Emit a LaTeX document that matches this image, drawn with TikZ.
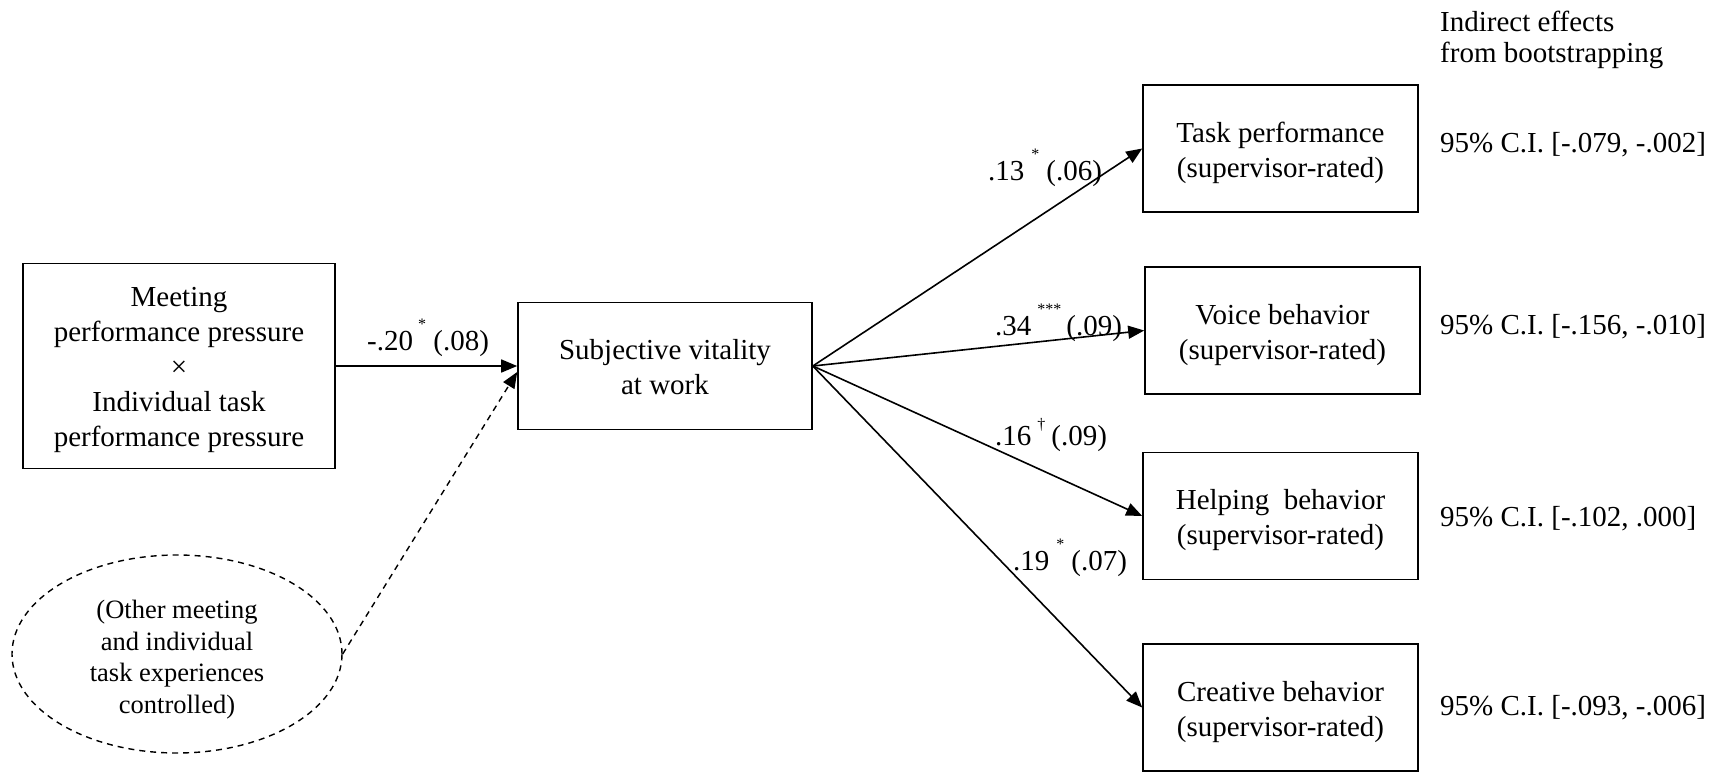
\documentclass[tikz,border=0pt]{standalone}
\usepackage{fontspec}
\setmainfont{Liberation Serif}
\usetikzlibrary{shapes.geometric,arrows.meta}
\newcommand\sigmark[2][21pt]{\raisebox{#1}{\fontsize{16}{16}\selectfont #2}}
\newcommand\topstr[1]{\rule{0pt}{#1}}
\begin{document}
\begin{tikzpicture}[x=1pt,y=-1pt,
  box/.style={draw,line width=1.6pt,minimum width=275pt,minimum height=127pt,inner sep=0pt,align=center,font=\fontsize{29}{35}\selectfont},
  lbl/.style={anchor=base west,inner sep=0pt,font=\fontsize{29}{35}\selectfont},
  arr/.style={line width=1.6pt,-{Triangle[length=16pt,width=13pt]}},
  dashline/.style={line width=1.4pt,dash pattern=on 6pt off 5pt}
]
\useasboundingbox (0,0) rectangle (1721,772);

\node[box,minimum width=312pt,minimum height=205pt] (mp) at (179,366) {\topstr{27pt}Meeting\\performance pressure\\×\\Individual task\\performance pressure};
\node[box,minimum width=294pt] (sv) at (665,366) {\topstr{22pt}Subjective vitality\\at work};
\node[box] (tp) at (1280.5,148.5) {\topstr{29pt}Task performance\\(supervisor-rated)};
\node[box] (vb) at (1282.5,330.5) {\topstr{29pt}Voice behavior\\(supervisor-rated)};
\node[box] (hb) at (1280.5,516) {\topstr{29pt}Helping\ \ behavior\\(supervisor-rated)};
\node[box] (cb) at (1280.5,707.5) {\topstr{29pt}Creative behavior\\(supervisor-rated)};

\node[ellipse,draw,dashline,minimum width=330pt,minimum height=198pt,inner sep=0pt,align=center,font=\fontsize{26.5}{31.5}\selectfont] (oth) at (177,654) {\topstr{30pt}(Other meeting\\and individual\\task experiences\\controlled)};

\draw[arr] (mp.east) -- (sv.west);
\draw[arr,dashline] (oth.east) -- ([yshift=-6pt]sv.west);
\draw[arr] (sv.east) -- (tp.west);
\draw[arr] (sv.east) -- (vb.west);
\draw[arr] (sv.east) -- (hb.west);
\draw[arr] (sv.east) -- (cb.west);

\node[lbl] (l1) at (367,350) {-.20\hspace{5pt}\sigmark{*}\ (.08)};
\node[lbl] (l2) at (988,180) {.13\hspace{7pt}\sigmark{*}\hspace{7pt}(.06)};
\node[lbl] (l3) at (995,335) {.34\hspace{6pt}\sigmark{***}\hspace{5pt}(.09)};
\node[lbl] (l4) at (995,445) {.16\hspace{6pt}\sigmark[16pt]{†}\hspace{6pt}(.09)};
\node[lbl] (l5) at (1013,570) {.19\hspace{7pt}\sigmark{*}\hspace{7pt}(.07)};

\node[lbl] (h1) at (1440,31) {Indirect effects};
\node[lbl] (h2) at (1440,62) {from bootstrapping};

\node[lbl] (c1) at (1440,152) {95\% C.I. [-.079, -.002]};
\node[lbl] (c2) at (1440,334) {95\% C.I. [-.156, -.010]};
\node[lbl] (c3) at (1440,526) {95\% C.I. [-.102, .000]};
\node[lbl] (c4) at (1440,715) {95\% C.I. [-.093, -.006]};
\end{tikzpicture}
\end{document}
